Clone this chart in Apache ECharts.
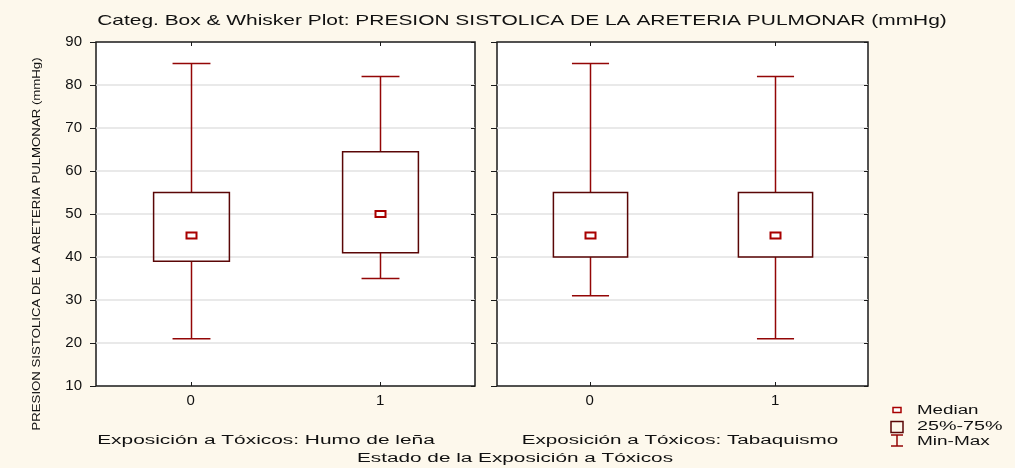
<!DOCTYPE html>
<html>
<head>
<meta charset="utf-8">
<script src="https://cdn.jsdelivr.net/npm/echarts@6/dist/echarts.min.js"></script>
<style>
html,body{margin:0;padding:0;background:#fdf8ec;}
#c{width:1015px;height:468px;}
</style>
</head>
<body>
<div id="c"></div>
<script>
// ---- data ----
const categories = ['0', '1'];
const yTicks = [10, 20, 30, 40, 50, 60, 70, 80, 90];
// Panel 1: Humo de leña
const humoMin = [21, 35];
const humoQ1  = [39, 41];
const humoMed = [45, 50];
const humoQ3  = [55, 64.5];
const humoMax = [85, 82];
// Panel 2: Tabaquismo
const tabMin = [31, 21];
const tabQ1  = [40, 40];
const tabMed = [45, 45];
const tabQ3  = [55, 55];
const tabMax = [85, 82];

const panelNames = ['Exposición a Tóxicos: Humo de leña', 'Exposición a Tóxicos: Tabaquismo'];
const titleText = 'Categ. Box & Whisker Plot: PRESION SISTOLICA DE LA ARETERIA PULMONAR (mmHg)';
const yName = 'PRESION SISTOLICA DE LA ARETERIA PULMONAR (mmHg)';
const xName = 'Estado de la Exposición a Tóxicos';
const legendLabels = ['Median', '25%-75%', 'Min-Max'];

const FONT = 'Liberation Sans';
const TXT = '#111';
const WHISK = '#930606';
const BOXC = '#5a0606';
const MEDC = '#a80000';
const EDGE = '#1a1a1a';

function rows(mn, q1, md, q3, mx) {
  return categories.map((c, i) => [i, mn[i], q1[i], md[i], q3[i], mx[i]]);
}

function renderItem(params, api) {
  const x = api.value(0);
  const pMin = api.coord([x, api.value(1)]);
  const pQ1 = api.coord([x, api.value(2)]);
  const pMed = api.coord([x, api.value(3)]);
  const pQ3 = api.coord([x, api.value(4)]);
  const pMax = api.coord([x, api.value(5)]);
  const band = api.size([1, 0])[0];
  const bw = band * 0.4;
  const cw = band * 0.2;
  const cx = Math.round(pMin[0]) + 0.5;
  const ws = { stroke: WHISK, lineWidth: 1.5 };
  return {
    type: 'group',
    children: [
      { type: 'line', shape: { x1: cx, y1: pMax[1], x2: cx, y2: pQ3[1] }, style: ws },
      { type: 'line', shape: { x1: cx, y1: pQ1[1], x2: cx, y2: pMin[1] }, style: ws },
      { type: 'line', shape: { x1: cx - cw / 2, y1: pMax[1], x2: cx + cw / 2, y2: pMax[1] }, style: ws },
      { type: 'line', shape: { x1: cx - cw / 2, y1: pMin[1], x2: cx + cw / 2, y2: pMin[1] }, style: ws },
      { type: 'rect', shape: { x: cx - bw / 2, y: pQ3[1], width: bw, height: pQ1[1] - pQ3[1] },
        style: { fill: 'rgba(255,255,255,0)', stroke: BOXC, lineWidth: 1.5 } },
      { type: 'rect', shape: { x: cx - 5, y: pMed[1] - 3, width: 10, height: 6 },
        style: { fill: '#fff', stroke: MEDC, lineWidth: 2 } }
    ]
  };
}

const grids = [
  { left: 96, top: 42, width: 379, height: 344 },
  { left: 497, top: 42, width: 371, height: 344 }
];

function txt(text, x, y, size, sx, align, extra) {
  return Object.assign({
    type: 'text', x: x, y: y, scaleX: sx,
    style: { text: text, fontFamily: FONT, fontSize: size, fill: TXT, align: align || 'center', verticalAlign: 'middle' }
  }, extra || {});
}

const option = {
  backgroundColor: '#fdf8ec',
  animation: false,
  grid: grids.map(g => Object.assign({ show: true, backgroundColor: '#fff', borderColor: EDGE, borderWidth: 1.5 }, g)),
  xAxis: [0, 1, 0, 1].map((gi, k) => ({
    type: 'category', gridIndex: gi, data: categories,
    position: k < 2 ? 'bottom' : 'top',
    axisLine: { show: false },
    axisTick: { show: true, inside: true, alignWithLabel: true, length: 4, lineStyle: { color: EDGE } },
    axisLabel: { show: k < 2, fontFamily: FONT, fontSize: 15, color: TXT, margin: 7 },
    splitLine: { show: false }
  })),
  yAxis: [0, 1, 0, 1].map((gi, k) => ({
    type: 'value', gridIndex: gi, min: 10, max: 90, interval: 10,
    position: k < 2 ? 'left' : 'right',
    axisLine: { show: false },
    axisTick: { show: true, inside: k >= 2, length: k < 2 ? 6 : 4, lineStyle: { color: EDGE } },
    axisLabel: { show: k === 0, fontFamily: FONT, fontSize: 15, color: TXT, margin: 14,
      formatter: v => (yTicks.indexOf(v) >= 0 ? String(v) : '') },
    splitLine: { show: k < 2, showMinLine: false, showMaxLine: false, lineStyle: { color: '#e2e2e2', width: 1.5 } }
  })),
  series: [
    { type: 'custom', xAxisIndex: 0, yAxisIndex: 0, renderItem: renderItem,
      data: rows(humoMin, humoQ1, humoMed, humoQ3, humoMax), encode: { x: 0, y: [1, 2, 3, 4, 5] }, z: 5 },
    { type: 'custom', xAxisIndex: 1, yAxisIndex: 1, renderItem: renderItem,
      data: rows(tabMin, tabQ1, tabMed, tabQ3, tabMax), encode: { x: 0, y: [1, 2, 3, 4, 5] }, z: 5 }
  ],
  graphic: [
    txt(titleText, 522, 21, 15, 1.395),
    txt(yName, 37, 244, 11, 1.2, 'center', { rotation: Math.PI / 2 }),
    txt(panelNames[0], 266, 441, 12.5, 1.67),
    txt(panelNames[1], 680, 441, 12.5, 1.65),
    txt(xName, 515, 459, 12.5, 1.66),
    // legend
    { type: 'rect', shape: { x: 893, y: 407.5, width: 8, height: 5 }, style: { fill: '#fff', stroke: MEDC, lineWidth: 1.5 } },
    { type: 'rect', shape: { x: 891, y: 421.5, width: 12, height: 11 }, style: { fill: 'rgba(0,0,0,0)', stroke: BOXC, lineWidth: 1.5 } },
    { type: 'line', shape: { x1: 891, y1: 435, x2: 903, y2: 435 }, style: { stroke: WHISK, lineWidth: 1.5 } },
    { type: 'line', shape: { x1: 897, y1: 435, x2: 897, y2: 446 }, style: { stroke: WHISK, lineWidth: 1.5 } },
    { type: 'line', shape: { x1: 891, y1: 446, x2: 903, y2: 446 }, style: { stroke: WHISK, lineWidth: 1.5 } },
    txt(legendLabels[0], 917, 411, 12.5, 1.5, 'left'),
    txt(legendLabels[1], 917, 427, 12.5, 1.58, 'left'),
    txt(legendLabels[2], 917, 442, 12.5, 1.52, 'left')
  ]
};

const chart = echarts.init(document.getElementById('c'), null, { renderer: 'canvas' });
chart.setOption(option);
</script>
</body>
</html>
